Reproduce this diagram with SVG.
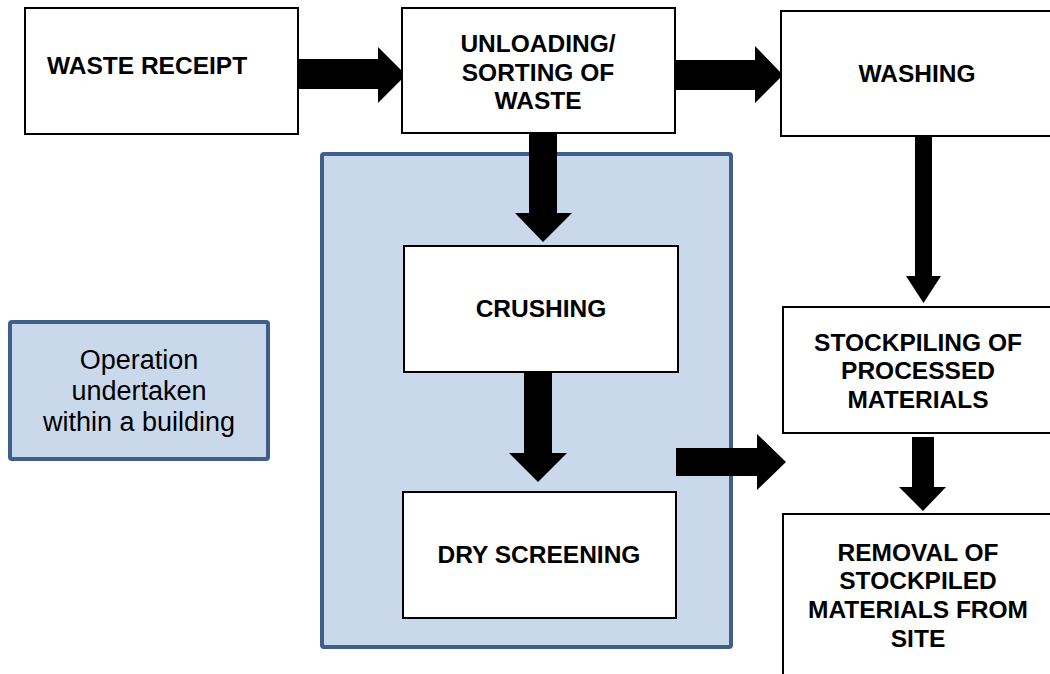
<svg xmlns="http://www.w3.org/2000/svg" width="1050" height="674" viewBox="0 0 1050 674">
<style>
.box{fill:#fff;stroke:#000;stroke-width:2}
.bld{fill:#c9d9eb;stroke:#3e5f8c;stroke-width:4}
.t{font-family:"Liberation Sans",Arial,sans-serif;font-weight:bold;font-size:24.5px;fill:#000;text-anchor:middle}
.l{font-family:"Liberation Sans",Arial,sans-serif;font-size:27px;fill:#000;text-anchor:middle}
.arr{fill:#000}
</style>
<rect width="1050" height="674" fill="#fff"/>
<g id="building">
<rect class="bld" x="322" y="154" width="409" height="493" rx="2"/>
</g>
<g id="connectors">
<polygon class="arr" points="298,59 378,59 378,47 406,75 378,103 378,89 298,89"/>
<polygon class="arr" points="675,60 755,60 755,46 783,75 755,103 755,90 675,90"/>
<polygon class="arr" points="529,134 557,134 557,213 572,213 543,242 515,213 529,213"/>
<polygon class="arr" points="524,372 552,372 552,453 567,453 538,482 509,453 524,453"/>
<polygon class="arr" points="676,448 757,448 757,434 786,462 757,490 757,476 676,476"/>
<polygon class="arr" points="915,136 932,136 932,276 941,276 923.5,303 906,276 915,276"/>
<polygon class="arr" points="912,437 934,437 934,487 946,487 923,511 899,487 912,487"/>
</g>
<g id="waste-receipt">
<rect class="box" x="25" y="8" width="273" height="126"/>
<text class="t" x="47" y="74" style="text-anchor:start">WASTE RECEIPT</text>
</g>
<g id="unloading">
<rect class="box" x="402" y="8" width="273" height="125"/>
<text class="t" x="538" y="52">UNLOADING/</text>
<text class="t" x="538" y="80.5">SORTING OF</text>
<text class="t" x="538" y="109">WASTE</text>
</g>
<g id="washing">
<rect class="box" x="781" y="11" width="275" height="125"/>
<text class="t" x="917" y="82">WASHING</text>
</g>
<g id="crushing">
<rect class="box" x="404" y="246" width="274" height="126"/>
<text class="t" x="541" y="317">CRUSHING</text>
</g>
<g id="dry-screening">
<rect class="box" x="403" y="492" width="273" height="126"/>
<text class="t" x="539" y="563">DRY SCREENING</text>
</g>
<g id="stockpiling">
<rect class="box" x="783" y="307" width="273" height="126"/>
<text class="t" x="918" y="351">STOCKPILING OF</text>
<text class="t" x="918" y="379">PROCESSED</text>
<text class="t" x="918" y="408">MATERIALS</text>
</g>
<g id="removal">
<rect class="box" x="783" y="514" width="273" height="170"/>
<text class="t" x="918" y="561">REMOVAL OF</text>
<text class="t" x="918" y="589">STOCKPILED</text>
<text class="t" x="918" y="618">MATERIALS FROM</text>
<text class="t" x="918" y="647">SITE</text>
</g>
<g id="legend">
<rect class="bld" x="10" y="322" width="258" height="137" rx="2"/>
<text class="l" x="139" y="369">Operation</text>
<text class="l" x="139" y="400">undertaken</text>
<text class="l" x="139" y="431">within a building</text>
</g>
</svg>
